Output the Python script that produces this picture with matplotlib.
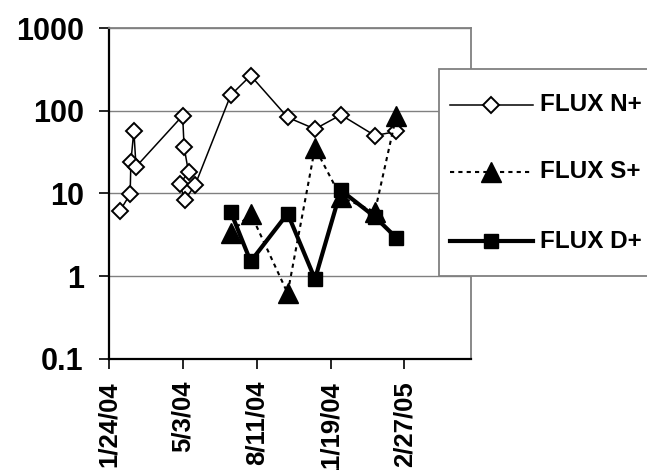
import matplotlib
matplotlib.use('Agg')
import matplotlib.pyplot as plt
from matplotlib.lines import Line2D
from matplotlib.patches import Rectangle
import pandas as pd

# --- data ---
n_dates = ['2004-02-08', '2004-02-22', '2004-02-23', '2004-02-27', '2004-03-01',
           '2004-05-03', '2004-05-05', '2004-05-11', '2004-04-29', '2004-05-06',
           '2004-05-20', '2004-07-07', '2004-08-03', '2004-09-22', '2004-10-29',
           '2004-12-03', '2005-01-18', '2005-02-16']
n_flux = [6.1, 9.8, 24, 57, 21,
          87, 36, 18, 13, 8.3,
          12.7, 154, 266, 83, 60,
          89, 50, 56]

sd_dates = ['2004-07-07', '2004-08-03', '2004-09-22', '2004-10-29',
            '2004-12-03', '2005-01-18', '2005-02-16']
s_flux = [3.3, 5.7, 0.62, 35.6, 9.0, 6.0, 87]
d_flux = [6.0, 1.5, 5.7, 0.92, 10.9, 5.2, 2.9]

series_names = ['FLUX N+', 'FLUX S+', 'FLUX D+']

tick_dates = ['2004-01-24', '2004-05-03', '2004-08-11', '2004-11-19', '2005-02-27']
tick_labels = ['1/24/04', '5/3/04', '8/11/04', '11/19/04', '2/27/05']
y_ticks = [0.1, 1, 10, 100, 1000]
y_labels = ['0.1', '1', '10', '100', '1000']
x_range = ['2004-01-24', '2005-05-28']

plt.rcParams['font.family'] = ['Liberation Sans', 'DejaVu Sans']
plt.rcParams['font.weight'] = 'bold'

W, H = 647, 470
fig = plt.figure(figsize=(W / 100, H / 100), dpi=100)

def fx(px):
    return px / W

def fy(py):
    return 1 - py / H

ax = fig.add_axes([fx(108.7), fy(358.7), fx(471) - fx(108.7), fy(28) - fy(358.7)])

styles = [
    dict(color='black', lw=1.1, marker='D', ms=7.9, mfc='white', mec='black', mew=1.4),
    dict(color='black', lw=1.5, ls=(0, (2, 2)), marker='^', ms=14, mfc='black', mec='black'),
    dict(color='black', lw=3.0, marker='s', ms=10.5, mfc='black', mec='black'),
]

ax.plot(pd.to_datetime(n_dates), n_flux, zorder=3, **styles[0])
ax.plot(pd.to_datetime(sd_dates), s_flux, zorder=4, **styles[1])
ax.plot(pd.to_datetime(sd_dates), d_flux, zorder=5, **styles[2])

ax.set_yscale('log')
ax.set_ylim(0.1, 1000)
ax.set_yticks(y_ticks)
ax.set_yticklabels(y_labels)
ax.minorticks_off()
ax.set_xlim(pd.to_datetime(x_range[0]), pd.to_datetime(x_range[1]))
ax.set_xticks(pd.to_datetime(tick_dates))
ax.set_xticklabels(tick_labels, rotation=90, va='top', ha='center')

ax.yaxis.grid(True, color='#808080', lw=1.0)
ax.set_axisbelow(True)
ax.tick_params(axis='y', direction='out', length=7, width=1.2, pad=11, labelsize=22)
ax.tick_params(axis='x', direction='out', length=7, width=1.2, pad=9, labelsize=18.5)
ax.spines['left'].set_linewidth(1.6)
ax.spines['bottom'].set_linewidth(1.6)
for side in ['top', 'right']:
    ax.spines[side].set_color('#808080')
    ax.spines[side].set_linewidth(1.3)

# legend box, hand placed like the Excel one
fig.add_artist(Rectangle((fx(439), fy(276)), fx(700) - fx(439), fy(69) - fy(276),
                         transform=fig.transFigure, facecolor='white',
                         edgecolor='#808080', lw=1.3, zorder=10))
rows = [105, 172, 241]
for name, st, ry in zip(series_names, styles, rows):
    line = dict(st)
    line['markevery'] = [1]
    fig.add_artist(Line2D([fx(450), fx(491), fx(533)], [fy(ry)] * 3,
                          transform=fig.transFigure, zorder=11, **line))
    fig.text(fx(540), fy(ry), name, fontsize=17.5, fontweight='bold',
             va='center', ha='left', zorder=12)

plt.savefig('out.png', dpi=100, facecolor='white')
